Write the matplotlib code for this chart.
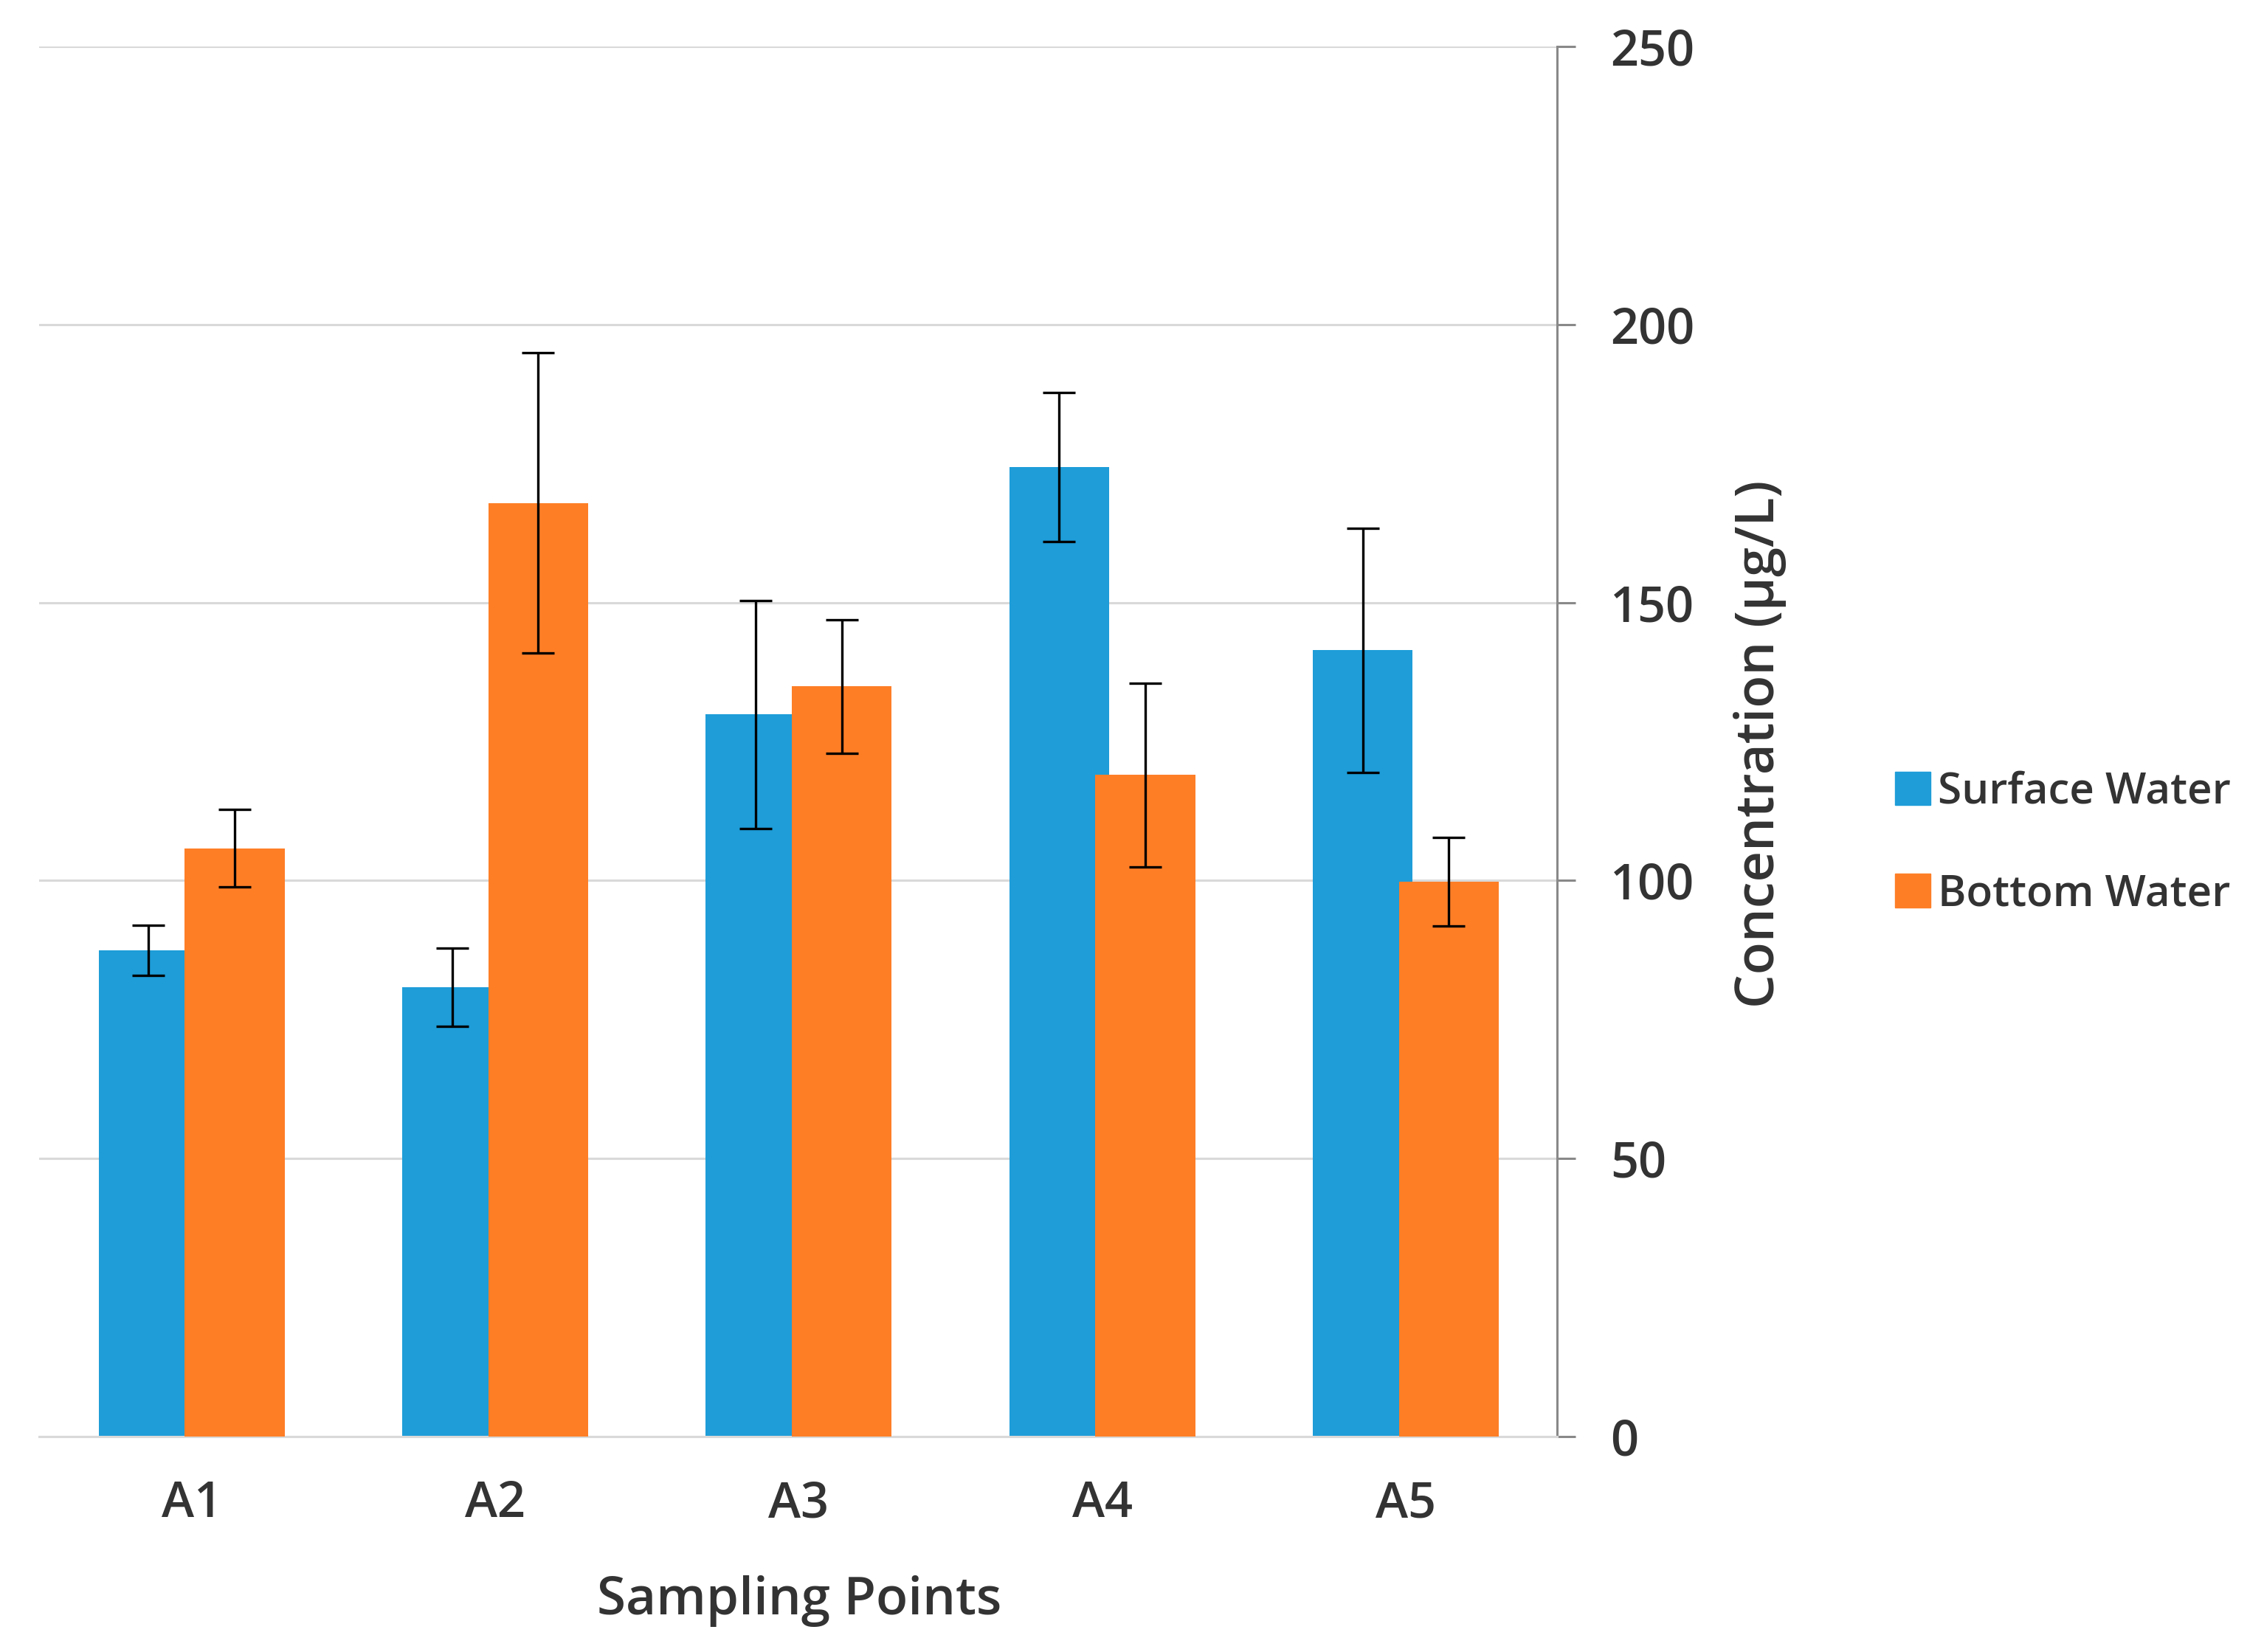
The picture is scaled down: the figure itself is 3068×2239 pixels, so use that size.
import numpy as np
import matplotlib
matplotlib.use('Agg')
import matplotlib.pyplot as plt
from matplotlib.patches import Patch

plt.rcParams['font.family'] = ['Open Sans', 'DejaVu Sans']

sites = ['A1', 'A2', 'A3', 'A4', 'A5']
surface = [87.5, 80.8, 129.9, 174.4, 141.4]
surface_err = [4.5, 7.0, 20.5, 13.4, 22.0]
bottom = [105.8, 167.9, 134.9, 119.0, 99.8]
bottom_err = [7.0, 27.0, 12.0, 16.5, 8.0]
y_ticks = [0, 50, 100, 150, 200, 250]

blue = '#1E9DD8'
orange = '#FE7E26'
txt = '#333333'

fig = plt.figure(figsize=(30.68, 22.39), dpi=100)
ax = fig.add_axes([0.0173, 0.1304, 0.6704, 0.8415])

x = np.arange(len(sites))
w = 0.329
off = 0.1417
ax.bar(x - off, surface, w, color=blue, zorder=2)
ax.bar(x + off, bottom, w, color=orange, zorder=3)
ax.errorbar(x - off, surface, yerr=surface_err, fmt='none', ecolor='black',
            elinewidth=2.4, capsize=15.5, capthick=2.4, zorder=4)
ax.errorbar(x + off, bottom, yerr=bottom_err, fmt='none', ecolor='black',
            elinewidth=2.4, capsize=15.5, capthick=2.4, zorder=4)

ax.set_xlim(-0.502, 4.498)
ax.set_ylim(0, 250)
ax.set_yticks(y_ticks)
ax.yaxis.tick_right()
ax.yaxis.grid(True, color='#d9d9d9', linewidth=2.2, zorder=0)
ax.set_axisbelow(True)
for s in ['top', 'left']:
    ax.spines[s].set_visible(False)
ax.spines['right'].set_color('#898989')
ax.spines['right'].set_linewidth(2.2)
ax.spines['bottom'].set_color('#d9d9d9')
ax.spines['bottom'].set_linewidth(2.2)
ax.tick_params(axis='y', direction='out', length=18, width=2.2, color='#898989',
               pad=34, labelsize=48, labelcolor=txt)
ax.tick_params(axis='x', length=0, pad=42, labelsize=48, labelcolor=txt)
ax.set_xticks(x)
ax.set_xticklabels(sites, fontweight='semibold')
for lab in ax.get_yticklabels():
    lab.set_fontweight('semibold')

fig.text(0.353, 1 - 2188 / 2239, 'Sampling Points', ha='center', va='baseline',
         fontsize=51, fontweight='semibold', color=txt)
fig.text(0.7774, 0.5498, 'Concentration (µg/L)', rotation=90, ha='center',
         va='center', fontsize=52, fontweight='semibold', color=txt)

handles = [Patch(color=blue, label='Surface Water'),
           Patch(color=orange, label='Bottom Water')]
leg = fig.legend(handles=handles, loc='center left', bbox_to_anchor=(0.837, 0.4895),
                 frameon=False, fontsize=42, handlelength=0.83, handleheight=0.83,
                 handletextpad=0.16, labelspacing=1.38, borderpad=0, borderaxespad=0)
for t in leg.get_texts():
    t.set_color(txt)
    t.set_fontweight('semibold')

fig.savefig('out.png', dpi=100)
